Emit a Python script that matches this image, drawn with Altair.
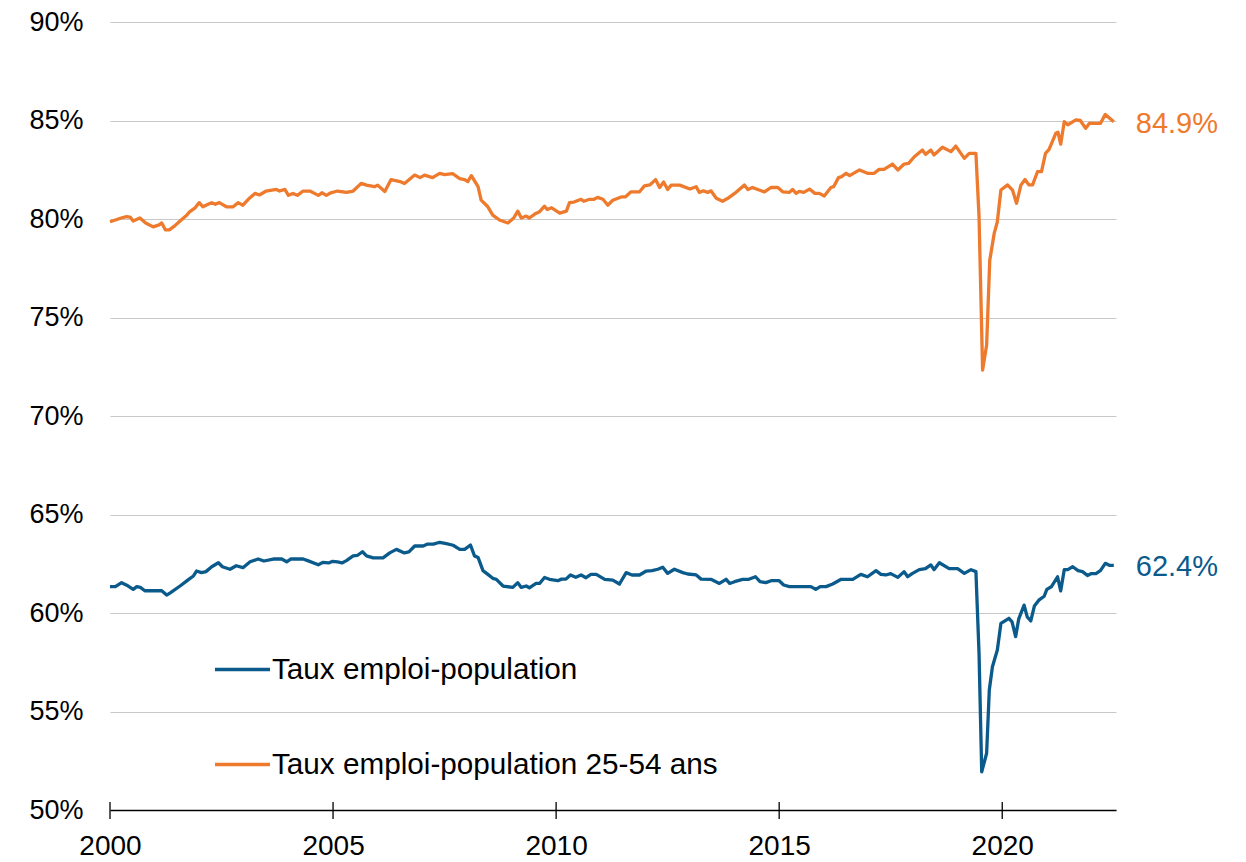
import altair as alt
import pandas as pd

BLUE = "#0B5A8C"
ORANGE = "#EE7A2D"
S1 = "Taux emploi-population"
S2 = "Taux emploi-population 25-54 ans"

orange_x = [2000.00, 2000.12, 2000.25, 2000.37, 2000.45, 2000.52, 2000.67, 2000.80, 2000.97, 2001.10,
            2001.16, 2001.24, 2001.33, 2001.45, 2001.57, 2001.70, 2001.79, 2001.90, 2002.00, 2002.08,
            2002.20, 2002.28, 2002.36, 2002.45, 2002.61, 2002.76, 2002.87, 2002.98, 2003.10, 2003.25,
            2003.35, 2003.50, 2003.73, 2003.80, 2003.92, 2004.00, 2004.10, 2004.20, 2004.33, 2004.48,
            2004.67, 2004.75, 2004.85, 2004.95, 2005.10, 2005.30, 2005.45, 2005.63, 2005.75, 2005.93,
            2006.00, 2006.16, 2006.30, 2006.50, 2006.60, 2006.83, 2006.95, 2007.05, 2007.23, 2007.39,
            2007.50, 2007.68, 2007.84, 2007.95, 2008.02, 2008.10, 2008.25, 2008.32, 2008.47, 2008.58,
            2008.73, 2008.92, 2009.05, 2009.14, 2009.22, 2009.33, 2009.40, 2009.52, 2009.63, 2009.74,
            2009.80, 2009.90, 2010.08, 2010.23, 2010.30, 2010.40, 2010.56, 2010.62, 2010.75, 2010.85,
            2010.93, 2011.05, 2011.16, 2011.27, 2011.46, 2011.55, 2011.68, 2011.87, 2011.98, 2012.10,
            2012.23, 2012.32, 2012.41, 2012.50, 2012.58, 2012.77, 2013.00, 2013.14, 2013.21, 2013.30,
            2013.40, 2013.47, 2013.59, 2013.73, 2013.85, 2014.00, 2014.22, 2014.30, 2014.40, 2014.55,
            2014.67, 2014.82, 2014.97, 2015.08, 2015.23, 2015.30, 2015.38, 2015.45, 2015.55, 2015.68,
            2015.80, 2015.90, 2016.01, 2016.16, 2016.22, 2016.33, 2016.40, 2016.50, 2016.58, 2016.80,
            2016.98, 2017.13, 2017.24, 2017.35, 2017.54, 2017.66, 2017.80, 2017.90, 2018.03, 2018.21,
            2018.28, 2018.40, 2018.47, 2018.66, 2018.85, 2018.96, 2019.15, 2019.26, 2019.41, 2019.48,
            2019.56, 2019.65, 2019.72, 2019.82, 2019.89, 2019.97, 2020.12, 2020.23, 2020.32, 2020.42,
            2020.51, 2020.60, 2020.68, 2020.79, 2020.88, 2020.97, 2021.05, 2021.20, 2021.25, 2021.31,
            2021.39, 2021.47, 2021.65, 2021.75, 2021.87, 2021.95, 2022.20, 2022.31, 2022.50]
orange_y = [79.86, 79.95, 80.05, 80.12, 80.10, 79.90, 80.05, 79.80, 79.60, 79.70,
            79.80, 79.45, 79.45, 79.65, 79.90, 80.15, 80.37, 80.55, 80.83, 80.62,
            80.75, 80.83, 80.75, 80.83, 80.62, 80.62, 80.83, 80.70, 81.00, 81.30,
            81.22, 81.42, 81.50, 81.42, 81.50, 81.20, 81.30, 81.20, 81.42, 81.42,
            81.20, 81.33, 81.20, 81.33, 81.42, 81.35, 81.42, 81.81, 81.72, 81.64,
            81.72, 81.40, 82.00, 81.90, 81.80, 82.23, 82.10, 82.23, 82.10, 82.32,
            82.25, 82.30, 82.05, 82.00, 81.90, 82.20, 81.64, 80.96, 80.62, 80.20,
            79.95, 79.80, 80.05, 80.40, 80.05, 80.15, 80.05, 80.25, 80.37, 80.65,
            80.48, 80.57, 80.30, 80.40, 80.83, 80.86, 81.00, 80.90, 81.00, 81.00,
            81.10, 81.00, 80.70, 80.95, 81.12, 81.12, 81.38, 81.38, 81.68, 81.73,
            82.00, 81.60, 81.88, 81.50, 81.72, 81.72, 81.52, 81.64, 81.35, 81.43,
            81.35, 81.43, 81.05, 80.90, 81.05, 81.30, 81.72, 81.50, 81.60, 81.47,
            81.38, 81.60, 81.60, 81.38, 81.35, 81.50, 81.30, 81.40, 81.35, 81.52,
            81.30, 81.30, 81.17, 81.60, 81.64, 82.10, 82.15, 82.32, 82.20, 82.49,
            82.32, 82.32, 82.52, 82.52, 82.79, 82.49, 82.79, 82.82, 83.16, 83.50,
            83.28, 83.50, 83.25, 83.64, 83.42, 83.70, 83.08, 83.33, 83.33, 80.12,
            72.33, 73.60, 77.90, 79.27, 79.86, 81.47, 81.73, 81.47, 80.80, 81.73,
            82.00, 81.73, 81.73, 82.40, 82.40, 83.33, 83.53, 84.35, 84.40, 83.80,
            84.94, 84.78, 85.03, 85.00, 84.60, 84.85, 84.85, 85.31, 84.94]

blue_x = [2000.00, 2000.12, 2000.26, 2000.40, 2000.52, 2000.60, 2000.68, 2000.78, 2000.95, 2001.16,
          2001.27, 2001.35, 2001.57, 2001.75, 2001.87, 2001.94, 2002.05, 2002.15, 2002.28, 2002.43,
          2002.52, 2002.69, 2002.83, 2002.98, 2003.14, 2003.32, 2003.45, 2003.66, 2003.85, 2003.96,
          2004.05, 2004.33, 2004.43, 2004.67, 2004.77, 2004.90, 2004.98, 2005.10, 2005.20, 2005.30,
          2005.45, 2005.55, 2005.66, 2005.75, 2005.90, 2006.12, 2006.27, 2006.42, 2006.60, 2006.70,
          2006.83, 2007.02, 2007.12, 2007.25, 2007.39, 2007.54, 2007.69, 2007.84, 2007.95, 2008.08,
          2008.17, 2008.25, 2008.36, 2008.47, 2008.58, 2008.66, 2008.81, 2009.03, 2009.14, 2009.22,
          2009.33, 2009.40, 2009.55, 2009.63, 2009.74, 2009.85, 2010.04, 2010.12, 2010.22, 2010.32,
          2010.44, 2010.56, 2010.67, 2010.78, 2010.90, 2011.09, 2011.27, 2011.42, 2011.57, 2011.70,
          2011.87, 2012.02, 2012.15, 2012.28, 2012.39, 2012.50, 2012.65, 2012.84, 2012.95, 2013.14,
          2013.25, 2013.47, 2013.66, 2013.81, 2013.89, 2014.00, 2014.18, 2014.32, 2014.47, 2014.57,
          2014.70, 2014.82, 2015.00, 2015.10, 2015.23, 2015.40, 2015.71, 2015.82, 2015.92, 2016.05,
          2016.20, 2016.39, 2016.65, 2016.83, 2016.98, 2017.17, 2017.28, 2017.39, 2017.50, 2017.66,
          2017.80, 2017.88, 2017.98, 2018.14, 2018.28, 2018.40, 2018.47, 2018.59, 2018.81, 2019.00,
          2019.15, 2019.30, 2019.41, 2019.48, 2019.54, 2019.65, 2019.71, 2019.78, 2019.89, 2019.97,
          2020.15, 2020.22, 2020.30, 2020.37, 2020.49, 2020.56, 2020.64, 2020.72, 2020.82, 2020.94,
          2021.00, 2021.10, 2021.24, 2021.31, 2021.39, 2021.47, 2021.58, 2021.70, 2021.80, 2021.91,
          2022.00, 2022.10, 2022.20, 2022.31, 2022.40, 2022.50]
blue_y = [61.34, 61.34, 61.54, 61.38, 61.20, 61.34, 61.30, 61.13, 61.13, 61.13,
          60.91, 61.02, 61.37, 61.68, 61.88, 62.13, 62.05, 62.10, 62.35, 62.55,
          62.35, 62.22, 62.40, 62.30, 62.60, 62.74, 62.64, 62.74, 62.74, 62.60,
          62.74, 62.74, 62.66, 62.45, 62.57, 62.54, 62.62, 62.59, 62.54, 62.66,
          62.90, 62.93, 63.11, 62.90, 62.80, 62.80, 63.05, 63.23, 63.05, 63.10,
          63.40, 63.40, 63.50, 63.50, 63.59, 63.52, 63.44, 63.23, 63.23, 63.45,
          62.90, 62.82, 62.15, 61.96, 61.76, 61.71, 61.37, 61.30, 61.54, 61.30,
          61.37, 61.28, 61.50, 61.50, 61.80, 61.71, 61.64, 61.72, 61.72, 61.93,
          61.81, 61.93, 61.79, 61.96, 61.96, 61.71, 61.67, 61.47, 62.05, 61.93,
          61.93, 62.13, 62.15, 62.22, 62.32, 62.01, 62.22, 62.05, 61.98, 61.93,
          61.72, 61.71, 61.50, 61.71, 61.50, 61.59, 61.71, 61.71, 61.84, 61.59,
          61.54, 61.64, 61.64, 61.42, 61.34, 61.34, 61.34, 61.20, 61.34, 61.34,
          61.47, 61.71, 61.71, 61.96, 61.84, 62.15, 61.96, 61.93, 62.00, 61.81,
          62.10, 61.84, 62.00, 62.20, 62.25, 62.44, 62.20, 62.55, 62.25, 62.25,
          62.01, 62.20, 62.10, 57.95, 51.94, 52.88, 56.09, 57.27, 58.12, 59.47,
          59.73, 59.55, 58.80, 59.70, 60.40, 59.80, 59.60, 60.35, 60.65, 60.85,
          61.20, 61.33, 61.84, 61.12, 62.20, 62.20, 62.35, 62.15, 62.10, 61.90,
          62.00, 62.00, 62.15, 62.52, 62.42, 62.42]

end_labels = ["62.4%", "84.9%"]
x_ticks = [2000, 2005, 2010, 2015, 2020]
y_ticks = [50, 55, 60, 65, 70, 75, 80, 85, 90]

W, H = 1006, 788
FONT = "Liberation Sans"

df = pd.concat([
    pd.DataFrame({"x": blue_x, "y": blue_y, "s": S1}),
    pd.DataFrame({"x": orange_x, "y": orange_y, "s": S2}),
])
ends = pd.DataFrame({"x": [blue_x[-1], orange_x[-1]], "y": [blue_y[-1], orange_y[-1]],
                     "s": [S1, S2], "t": end_labels})
ticks_df = pd.DataFrame({"x": x_ticks})

xs = alt.Scale(domain=[2000, 2022.55], nice=False, zero=False)
ys = alt.Scale(domain=[50, 90], nice=False, zero=False)
cs = alt.Scale(domain=[S1, S2], range=[BLUE, ORANGE])

x_axis = alt.Axis(values=x_ticks, format="d", title=None, grid=False,
                  domainColor="black", domainWidth=1.3, ticks=False,
                  labelFontSize=28, labelFont=FONT, labelColor="black",
                  labelPadding=22, labelFlush=False, labelOverlap=False)
y_axis = alt.Axis(values=y_ticks, labelExpr="datum.value + '%'", title=None,
                  domain=False, ticks=False, grid=True, gridColor="#c8c8c8",
                  gridWidth=1, labelFontSize=27, labelFont=FONT,
                  labelColor="black", labelPadding=27)

lines = alt.Chart(df).mark_line(strokeWidth=3.3, strokeJoin="round", clip=False).encode(
    x=alt.X("x:Q", scale=xs, axis=x_axis),
    y=alt.Y("y:Q", scale=ys, axis=y_axis),
    color=alt.Color("s:N", scale=cs, sort=[S1, S2],
                    legend=alt.Legend(title=None, orient="none", legendX=103, legendY=618,
                                      symbolType="stroke", symbolSize=3025, symbolStrokeWidth=3.3,
                                      labelFontSize=29.7, labelFont=FONT, labelColor="black",
                                      labelOffset=0, rowPadding=50, padding=0, labelLimit=0)),
    detail="s:N",
)

tick_rules = alt.Chart(ticks_df).mark_rule(color="black", strokeWidth=1.3).encode(
    x=alt.X("x:Q", scale=xs, axis=x_axis), y=alt.value(H - 8), y2=alt.value(H + 9)
)

labels = alt.Chart(ends).mark_text(align="left", baseline="middle", dx=22, dy=2, fontSize=29, font=FONT).encode(
    x=alt.X("x:Q", scale=xs, axis=x_axis), y=alt.Y("y:Q", scale=ys, axis=y_axis), text="t:N",
    color=alt.Color("s:N", scale=cs, legend=None),
)

chart = alt.layer(lines, tick_rules, labels).properties(
    width=W, height=H,
    padding={"left": 110, "top": 22, "right": 130, "bottom": 52},
    autosize=alt.AutoSizeParams(type="none"),
).configure(background="white").configure_view(stroke=None)

chart.save("out.html", embed_options={"renderer": "svg", "actions": False})
